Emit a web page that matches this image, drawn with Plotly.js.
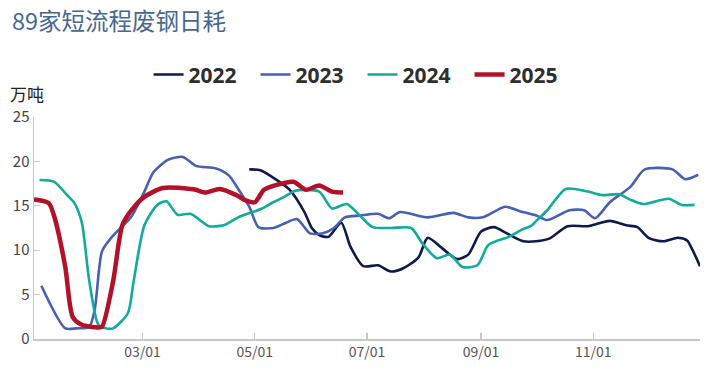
<!DOCTYPE html>
<html>
<head>
<meta charset="utf-8">
<script src="https://cdn.plot.ly/plotly-3.0.1.min.js"></script>
<style>html,body{margin:0;padding:0;background:#fff;}#chart{width:708px;height:367px;}</style>
</head>
<body>
<div id="chart"></div>
<script>
// Dates mapped onto a common (non-leap) year for month/day display
const d2022 = ['2021-04-28','2021-05-04','2021-05-13','2021-05-20','2021-05-28','2021-06-01','2021-06-05','2021-06-10','2021-06-17','2021-06-22','2021-06-29','2021-07-07','2021-07-14','2021-07-21','2021-07-29','2021-08-03','2021-08-11','2021-08-19','2021-08-25','2021-09-01','2021-09-08','2021-09-15','2021-09-24','2021-10-01','2021-10-08','2021-10-18','2021-10-29','2021-11-10','2021-11-19','2021-11-25','2021-12-01','2021-12-09','2021-12-17','2021-12-22','2021-12-25','2021-12-29'];
const v2022 = [19.1,19.0,17.9,16.8,14.3,12.5,11.7,11.5,13.1,10.4,8.2,8.3,7.6,8.0,9.2,11.4,10.2,9.0,9.5,12.1,12.6,11.9,11.0,11.0,11.3,12.7,12.7,13.3,12.8,12.6,11.4,11.0,11.4,11.1,10.0,8.2];

const d2023 = ['2021-01-05','2021-01-18','2021-01-24','2021-01-31','2021-02-03','2021-02-07','2021-02-12','2021-02-17','2021-02-23','2021-03-02','2021-03-07','2021-03-15','2021-03-23','2021-03-30','2021-04-10','2021-04-17','2021-04-22','2021-04-28','2021-05-03','2021-05-11','2021-05-18','2021-05-24','2021-05-31','2021-06-07','2021-06-13','2021-06-19','2021-06-27','2021-07-07','2021-07-13','2021-07-19','2021-08-03','2021-08-17','2021-08-25','2021-09-02','2021-09-14','2021-09-22','2021-10-01','2021-10-07','2021-10-19','2021-10-27','2021-11-02','2021-11-10','2021-11-21','2021-11-29','2021-12-14','2021-12-21','2021-12-28'];
const v2023 = [6.0,1.2,1.2,1.35,3.3,9.9,11.4,12.5,13.8,16.6,18.8,20.2,20.5,19.5,19.2,18.4,16.9,14.9,12.6,12.5,13.1,13.5,11.9,11.9,12.5,13.7,13.9,14.1,13.6,14.3,13.7,14.2,13.7,13.7,14.9,14.4,13.9,13.4,14.5,14.5,13.6,15.4,17.1,19.1,19.1,18.0,18.5];

const d2024 = ['2021-01-04','2021-01-12','2021-01-19','2021-01-23','2021-01-27','2021-01-31','2021-02-05','2021-02-09','2021-02-13','2021-02-21','2021-02-24','2021-03-02','2021-03-09','2021-03-14','2021-03-20','2021-03-27','2021-04-03','2021-04-06','2021-04-14','2021-04-22','2021-05-05','2021-05-11','2021-05-17','2021-05-23','2021-06-05','2021-06-12','2021-06-20','2021-06-28','2021-07-04','2021-07-14','2021-07-25','2021-07-31','2021-08-08','2021-08-15','2021-08-22','2021-08-30','2021-09-05','2021-09-16','2021-09-24','2021-09-28','2021-10-01','2021-10-07','2021-10-17','2021-10-29','2021-11-06','2021-11-15','2021-11-21','2021-11-28','2021-12-12','2021-12-19','2021-12-26'];
const v2024 = [17.9,17.7,16.2,15.3,13.1,6.6,1.6,1.2,1.2,2.9,6.3,12.8,15.1,15.5,14.0,14.1,13.1,12.7,12.8,13.7,14.7,15.4,16.0,16.7,16.6,14.7,15.2,13.7,12.6,12.5,12.5,10.8,9.1,9.5,8.1,8.3,10.6,11.5,12.4,12.7,13.3,14.5,16.9,16.6,16.2,16.3,15.7,15.2,15.8,15.1,15.1];

const d2025 = ['2021-01-01','2021-01-09','2021-01-12','2021-01-18','2021-01-22','2021-01-27','2021-02-05','2021-02-07','2021-02-13','2021-02-18','2021-02-23','2021-03-02','2021-03-12','2021-03-27','2021-03-30','2021-04-04','2021-04-12','2021-04-21','2021-04-26','2021-05-01','2021-05-06','2021-05-12','2021-05-22','2021-05-29','2021-06-05','2021-06-12','2021-06-18'];
const v2025 = [15.7,15.3,13.8,8.1,2.5,1.6,1.3,1.4,6.5,12.8,14.5,16.0,17.0,16.9,16.8,16.5,16.9,16.2,15.6,15.4,16.8,17.3,17.7,16.8,17.3,16.6,16.5];

const xTickVals = ['2021-03-01','2021-05-01','2021-07-01','2021-09-01','2021-11-01'];
const xTickText = ['03/01','05/01','07/01','09/01','11/01'];
const yTickVals = [0,5,10,15,20,25];

const font = '"Noto Sans CJK SC", "Noto Sans", sans-serif';
function tr(name, x, y, color, width) {
  return {type:'scatter', mode:'lines', name:name, x:x, y:y,
    line:{color:color, width:width, shape:'spline', smoothing:0.7}, hoverinfo:'skip'};
}
const data = [
  tr('2022', d2022, v2022, '#0e1a4c', 2.6),
  tr('2023', d2023, v2023, '#4760b3', 2.6),
  tr('2024', d2024, v2024, '#12aa9b', 2.6),
  tr('2025', d2025, v2025, '#b31128', 4.5)
];
const layout = {
  width:708, height:367,
  margin:{l:34, r:8, t:117, b:28},
  paper_bgcolor:'#fff', plot_bgcolor:'#fff',
  font:{family:font, color:'#444'},
  title:{text:'89家短流程废钢日耗', x:0.017, xanchor:'left', xref:'container', y:0.94, yanchor:'middle', yref:'container',
    font:{family:font, size:23.5, color:'#466792'}},
  showlegend:true,
  legend:{orientation:'h', x:0.172, xanchor:'left', y:1.19, yanchor:'middle',
    font:{family:'"Noto Sans", sans-serif', size:21, color:'#2e2e2e', weight:'bold'},
    itemwidth:30, entrywidth:62, entrywidthmode:'pixels'},
  xaxis:{type:'date', range:['2021-01-01','2021-12-29'], tickmode:'array', tickvals:xTickVals, ticktext:xTickText,
    showgrid:false, zeroline:false, showline:true, linecolor:'#c8c8c8', linewidth:1.5,
    ticks:'inside', ticklen:6, tickcolor:'#c8c8c8', tickwidth:1.2,
    tickfont:{family:font, size:14, color:'#555'}, fixedrange:true},
  yaxis:{range:[0,25], tickmode:'array', tickvals:yTickVals, showgrid:false, zeroline:false,
    showline:true, linecolor:'#c8c8c8', linewidth:1.5, ticks:'inside', ticklen:6, tickcolor:'#c8c8c8', tickwidth:1.2,
    tickfont:{family:font, size:15, color:'#444'}, fixedrange:true},
  annotations:[{text:'万吨', xref:'paper', yref:'paper', x:-0.039, y:1.104, xanchor:'left', yanchor:'middle',
    showarrow:false, font:{family:font, size:17, color:'#222'}}]
};
Plotly.newPlot('chart', data, layout, {displayModeBar:false, staticPlot:true});
</script>
</body>
</html>
